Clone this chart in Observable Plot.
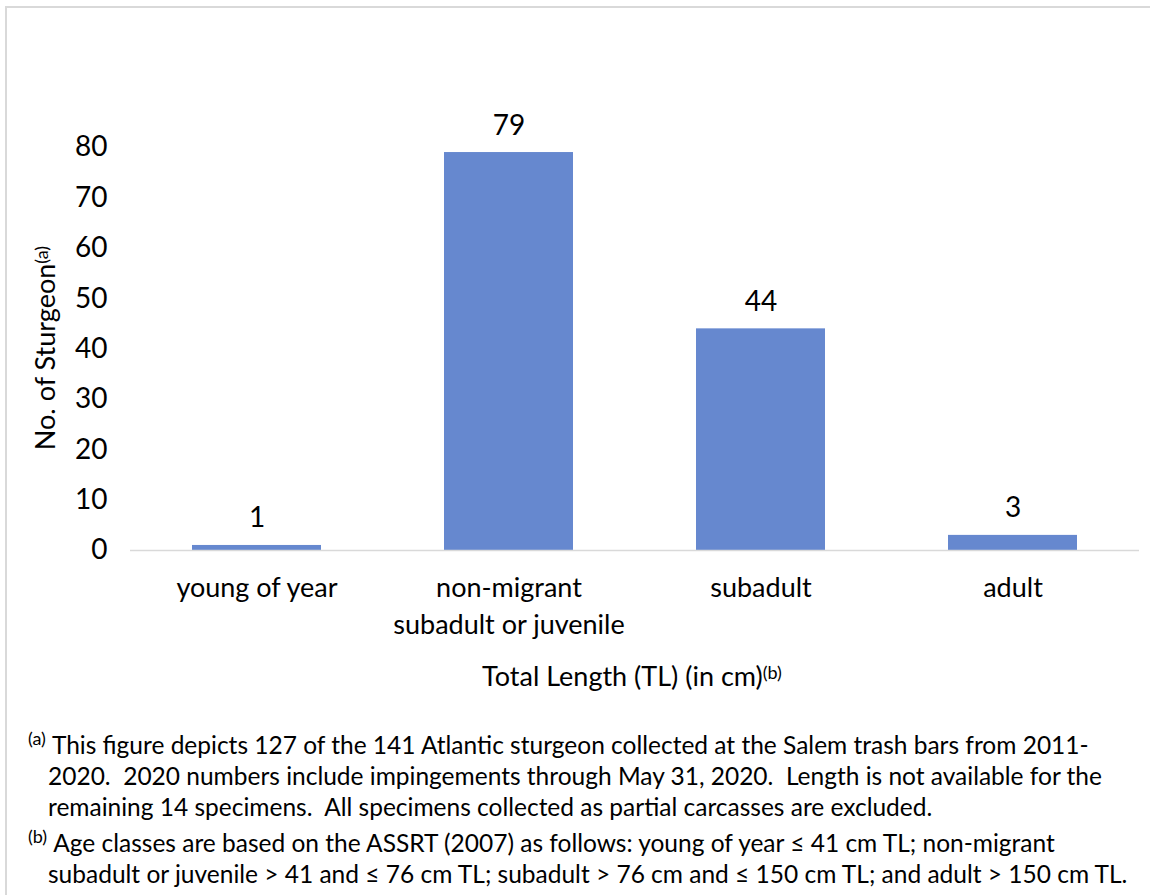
<!DOCTYPE html>
<html>
<head>
<meta charset="utf-8">
<script src="https://cdn.jsdelivr.net/npm/d3@7"></script>
<script src="https://cdn.jsdelivr.net/npm/@observablehq/plot@0.6"></script>
<style>
  html, body { margin: 0; padding: 0; background: #fff; }
  body { width: 1150px; height: 895px; position: relative; overflow: hidden; font-family: Lato, "Open Sans", sans-serif; color: #000; }
  #frame { position: absolute; left: 5px; top: 6px; width: 1160px; height: 900px; border-top: 2px solid #d9d9d9; border-left: 2px solid #d9d9d9; box-sizing: border-box; }
  #chart { position: absolute; left: 0; top: 0; }
  .fn { position: absolute; left: 28px; font-size: 24.5px; line-height: 31px; white-space: nowrap; }
  .fn div { height: 31px; }
  .fn .cont { padding-left: 20px; }
  .fn .sup { font-size: 18px; line-height: 0; position: relative; top: -9px; margin-right: 6px; }
</style>
</head>
<body>
<div id="frame"></div>
<div id="chart"></div>
<div class="fn" id="fnA" style="top: 729px;"></div>
<div class="fn" id="fnB" style="top: 827px;"></div>
<script>
// ---- data ----
const categories = ["young of year", "non-migrant subadult or juvenile", "subadult", "adult"];
const tickLabels = ["young of year", "non-migrant\nsubadult or juvenile", "subadult", "adult"];
const counts = [1, 79, 44, 3];
const yTicks = [0, 10, 20, 30, 40, 50, 60, 70, 80];
const yLabel = "No. of Sturgeon";
const yLabelSup = "(a)";
const xLabel = "Total Length (TL) (in cm)";
const xLabelSup = "(b)";
const noteA = [
  "This figure depicts 127 of the 141 Atlantic sturgeon collected at the Salem trash bars from 2011-",
  "2020.  2020 numbers include impingements through May 31, 2020.  Length is not available for the",
  "remaining 14 specimens.  All specimens collected as partial carcasses are excluded."
];
const noteB = [
  "Age classes are based on the ASSRT (2007) as follows: young of year \u2264 41 cm TL; non-migrant",
  "subadult or juvenile > 41 and \u2264 76 cm TL; subadult > 76 cm and \u2264 150 cm TL; and adult > 150 cm TL."
];

const data = categories.map((c, i) => ({cat: c, n: counts[i]}));
const labelOf = new Map(categories.map((c, i) => [c, tickLabels[i]]));

const FS = 27;
const FT = 28;
const plot = Plot.plot({
  width: 1150,
  height: 700,
  marginTop: 147,
  marginBottom: 150,
  marginLeft: 130,
  marginRight: 11,
  style: {fontFamily: "Lato, 'Open Sans', sans-serif", fontSize: FS + "px", color: "#000", background: "transparent"},
  x: {domain: categories, paddingInner: 0.49, paddingOuter: 0.245},
  y: {domain: [0, 80]},
  marks: [
    Plot.barY(data, {x: "cat", y: "n", fill: "#6688cf"}),
    Plot.ruleY([0], {stroke: "#d9d9d9", strokeWidth: 1.5}),
    Plot.text(data, {x: "cat", y: "n", text: d => String(d.n), lineAnchor: "bottom", dy: -18, fontSize: FT, fill: "#000"}),
    Plot.axisY({ticks: yTicks, tickSize: 0, tickPadding: 23, fontSize: FT, label: null, fill: "#000"}),
    Plot.axisX({tickSize: 0, tickPadding: 20, fontSize: FS, label: null, lineHeight: 1.37, tickFormat: d => labelOf.get(d), fill: "#000"})
  ]
});
document.getElementById("chart").appendChild(plot);

const svg = d3.select(plot);
// y-axis title with superscript
const yt = svg.append("text")
  .attr("transform", "translate(55,348) rotate(-90)")
  .attr("text-anchor", "middle")
  .style("font-size", FS + "px")
  .attr("fill", "#000");
yt.append("tspan").text(yLabel);
yt.append("tspan").attr("dy", "-0.4em").style("font-size", "18px").text(yLabelSup);

// x-axis title with superscript
const xt = svg.append("text")
  .attr("x", 632).attr("y", 686)
  .attr("text-anchor", "middle")
  .style("font-size", FS + "px")
  .attr("fill", "#000");
xt.append("tspan").text(xLabel);
xt.append("tspan").attr("dy", "-0.4em").style("font-size", "18px").text(xLabelSup);

// footnotes
function fill(id, sup, lines) {
  const el = document.getElementById(id);
  lines.forEach((ln, i) => {
    const div = document.createElement("div");
    if (i === 0) {
      const s = document.createElement("span");
      s.className = "sup";
      s.textContent = sup;
      div.appendChild(s);
      div.appendChild(document.createTextNode(ln));
    } else {
      div.className = "cont";
      div.textContent = ln;
    }
    div.style.whiteSpace = "pre";
    el.appendChild(div);
  });
}
fill("fnA", "(a)", noteA);
fill("fnB", "(b)", noteB);
</script>
</body>
</html>
